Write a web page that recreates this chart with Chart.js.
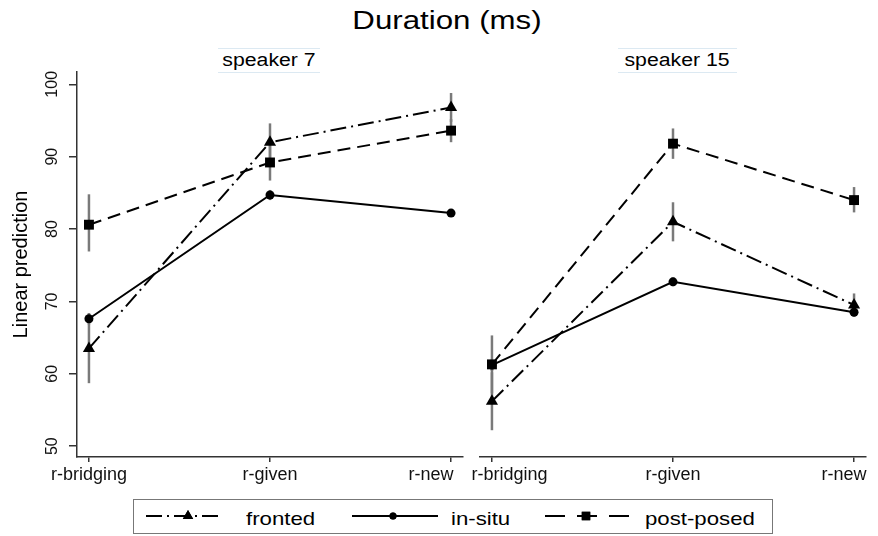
<!DOCTYPE html>
<html>
<head>
<meta charset="utf-8">
<script src="https://cdn.jsdelivr.net/npm/chart.js@4.4.1/dist/chart.umd.min.js"></script>
<style>
  body { margin: 0; background: #fff; font-family: "Liberation Sans", Arial, sans-serif; }
  #wrap { position: relative; width: 878px; height: 536px; overflow: hidden; }
  .txt { position: absolute; white-space: nowrap; color: #000; }
  #title { left: 447px; top: 6px; font-size: 25px; transform: translateX(-50%) scaleX(1.25); }
  .strip { position: absolute; top: 48px; height: 23px; border-top: 1px solid #dce9f2; border-bottom: 1px solid #dce9f2; }
  .striptxt { top: 49px; font-size: 18px; line-height: 23px; transform: translateX(-50%) scaleX(1.18); }
  #c1 { position: absolute; left: 0; top: 40px; }
  #c2 { position: absolute; left: 430px; top: 40px; }
  #legend { position: absolute; left: 133px; top: 499px; width: 638px; height: 33px; border: 1px solid #777; }
  .legtxt { top: 509px; font-size: 18.5px; line-height: 20px; transform-origin: left center; transform: scaleX(1.2); }
  .legkey { position: absolute; top: 506px; }
</style>
</head>
<body>
<div id="wrap">
  <div id="title" class="txt">Duration (ms)</div>
  <div class="strip" style="left:218px;width:102px;"></div>
  <div class="txt striptxt" style="left:269px;">speaker 7</div>
  <div class="strip" style="left:618px;width:119px;"></div>
  <div class="txt striptxt" style="left:677px;">speaker 15</div>
  <canvas id="c1" width="470" height="450"></canvas>
  <canvas id="c2" width="448" height="450"></canvas>
  <div id="legend"></div>
</div>
<script>
// categories on the x axis
const categories = ["r-bridging", "r-given", "r-new"];
const yTicks = [50, 60, 70, 80, 90, 100];
const seriesNames = ["fronted", "in-situ", "post-posed"];

// speaker 7: means and confidence intervals
const s7Fronted = [63.5, 92.0, 96.8];
const s7FrontedLo = [58.7, 89.4, 94.8];
const s7FrontedHi = [68.3, 94.6, 98.8];
const s7InSitu = [67.6, 84.7, 82.2];
const s7InSituLo = [66.8, 84.0, 81.7];
const s7InSituHi = [68.4, 85.4, 82.7];
const s7PostPosed = [80.6, 89.2, 93.6];
const s7PostPosedLo = [76.9, 86.7, 92.0];
const s7PostPosedHi = [84.8, 91.7, 95.2];

// speaker 15
const s15Fronted = [56.2, 81.0, 69.5];
const s15FrontedLo = [52.2, 78.3, 67.9];
const s15FrontedHi = [60.2, 83.7, 71.1];
const s15InSitu = [61.2, 72.7, 68.5];
const s15InSituLo = [60.4, 72.1, 68.0];
const s15InSituHi = [62.0, 73.3, 69.0];
const s15PostPosed = [61.3, 91.8, 84.0];
const s15PostPosedLo = [57.3, 89.7, 82.3];
const s15PostPosedHi = [65.3, 93.9, 85.8];

const FONT = "'Liberation Sans', Arial, sans-serif";
const styles = [
  { dash: [16, 5, 2, 5], point: "triangle", radius: 7 },
  { dash: [], point: "circle", radius: 4.5 },
  { dash: [13, 7], point: "rect", radius: 7 },
];

function toPoints(vals, lo, hi) {
  return vals.map((v, i) => ({ x: i, y: v, lo: lo[i], hi: hi[i] }));
}

function makeDatasets(f, fl, fh, s, sl, sh, p, pl, ph) {
  const all = [toPoints(f, fl, fh), toPoints(s, sl, sh), toPoints(p, pl, ph)];
  return all.map((d, k) => ({
    label: seriesNames[k],
    data: d,
    borderColor: "#000",
    backgroundColor: "#000",
    borderWidth: 2,
    borderDash: styles[k].dash,
    pointStyle: styles[k].point,
    pointRadius: styles[k].radius,
    pointBorderWidth: 0,
    tension: 0,
  }));
}

// error bars drawn from the lo/hi values through the scales
const errorBars = {
  id: "errorBars",
  beforeDatasetsDraw(chart) {
    const ctx = chart.ctx, xs = chart.scales.x, ys = chart.scales.y;
    ctx.save();
    ctx.strokeStyle = "#7a7a7a";
    ctx.lineWidth = 2.5;
    chart.data.datasets.forEach(ds => {
      ds.data.forEach(pt => {
        const px = xs.getPixelForValue(pt.x);
        ctx.beginPath();
        ctx.moveTo(px, ys.getPixelForValue(pt.lo));
        ctx.lineTo(px, ys.getPixelForValue(pt.hi));
        ctx.stroke();
      });
    });
    ctx.restore();
  }
};

// vertical (rotated) y tick labels, Stata style
const rotatedYLabels = {
  id: "rotatedYLabels",
  afterDraw(chart) {
    const ys = chart.scales.y;
    if (!ys.options.grid.display) return;
    const ctx = chart.ctx;
    ctx.save();
    ctx.font = "16px " + FONT;
    ctx.fillStyle = "#111";
    ctx.textAlign = "center";
    ctx.textBaseline = "middle";
    ys.ticks.forEach(t => {
      ctx.save();
      ctx.translate(53, ys.getPixelForValue(t.value));
      ctx.rotate(-Math.PI / 2);
      ctx.fillText(String(t.value), 0, 0);
      ctx.restore();
    });
    ctx.restore();
  }
};

// edge labels are nudged inward (as Stata keeps them inside each panel) with spaces
function makeChart(id, datasets, showY, yWidth, pad, labelPad) {
  return new Chart(document.getElementById(id), {
    type: "line",
    data: { datasets },
    plugins: [errorBars, rotatedYLabels],
    options: {
      responsive: false,
      animation: false,
      events: [],
      layout: { padding: pad },
      plugins: { legend: { display: false }, tooltip: { enabled: false } },
      scales: {
        x: {
          type: "linear",
          bounds: "data",
          min: -0.066,
          max: 2.066,
          afterBuildTicks: s => { s.ticks = categories.map((c, i) => ({ value: i })); },
          afterFit: s => { s.height = 33; s.paddingLeft = 0; s.paddingRight = 0; },
          border: { color: "#333", width: 1.5 },
          grid: { drawOnChartArea: false, tickLength: 5, color: "#333", lineWidth: 1.5 },
          ticks: {
            callback: v => " ".repeat(labelPad[v][0]) + categories[v] + " ".repeat(labelPad[v][1]),
            font: { family: FONT, size: 18 },
            color: "#111",
            padding: 2,
            maxRotation: 0,
            autoSkip: false,
          },
        },
        y: {
          bounds: "data",
          min: 48.5,
          max: 101.7,
          afterBuildTicks: s => { s.ticks = yTicks.map(v => ({ value: v })); },
          afterFit: s => { s.width = yWidth; },
          border: { display: showY, color: "#333", width: 1.5 },
          grid: { display: showY, drawOnChartArea: false, tickLength: 8, color: "#333", lineWidth: 1.5 },
          ticks: { display: false },
          title: {
            display: showY,
            text: "Linear prediction",
            font: { family: FONT, size: 20 },
            color: "#000",
            padding: { top: 9, bottom: 0 },
          },
        },
      },
    },
  });
}

makeChart("c1",
  makeDatasets(s7Fronted, s7FrontedLo, s7FrontedHi, s7InSitu, s7InSituLo, s7InSituHi, s7PostPosed, s7PostPosedLo, s7PostPosedHi),
  true, 77, { top: 32, right: 6, left: 0, bottom: 0 }, [[0, 0], [0, 0], [0, 8]]);
makeChart("c2",
  makeDatasets(s15Fronted, s15FrontedLo, s15FrontedHi, s15InSitu, s15InSituLo, s15InSituHi, s15PostPosed, s15PostPosedLo, s15PostPosedHi),
  false, 50, { top: 32, right: 12, left: 0, bottom: 0 }, [[7, 0], [0, 0], [0, 4]]);

// legend keys: [key left, key width, marker x within key, text left]
const legendPos = [[146, 76, 42, 246], [352, 86, 41, 451], [545, 86, 41, 645]];
const wrap = document.getElementById("wrap");
seriesNames.forEach((name, k) => {
  const [kx, kw, mx, tx] = legendPos[k];
  const c = document.createElement("canvas");
  c.className = "legkey";
  c.style.left = kx + "px";
  c.width = kw;
  c.height = 20;
  const g = c.getContext("2d");
  g.strokeStyle = "#000";
  g.fillStyle = "#000";
  g.lineWidth = 2;
  g.setLineDash(k === 2 ? [20, 12] : styles[k].dash);
  g.beginPath();
  g.moveTo(0, 10);
  g.lineTo(kw, 10);
  g.stroke();
  g.setLineDash([]);
  Chart.helpers.drawPoint(g, { pointStyle: styles[k].point, radius: styles[k].radius - 1, borderWidth: 0 }, mx, 10);
  g.fill();
  wrap.appendChild(c);
  const t = document.createElement("div");
  t.className = "txt legtxt";
  t.style.left = tx + "px";
  t.textContent = name;
  wrap.appendChild(t);
});
</script>
</body>
</html>
